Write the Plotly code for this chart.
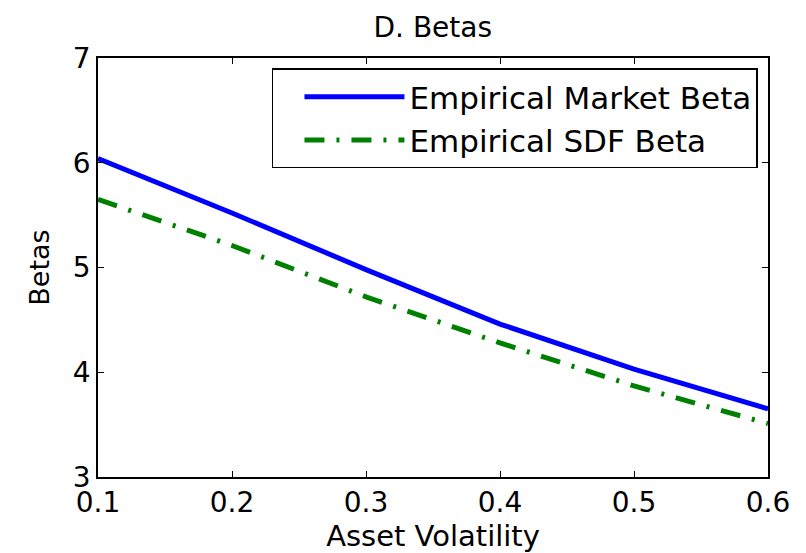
import plotly.graph_objects as go

# Asset volatility grid and the two beta series
volatility = [0.1, 0.2, 0.3, 0.4, 0.5, 0.6]
market_beta = [6.04, 5.52, 4.98, 4.46, 4.03, 3.65]
sdf_beta = [5.65, 5.21, 4.72, 4.28, 3.87, 3.51]

x_ticks = [0.1, 0.2, 0.3, 0.4, 0.5, 0.6]
x_tick_text = ["0.1", "0.2", "0.3", "0.4", "0.5", "0.6"]
y_ticks = [3, 4, 5, 6, 7]
y_tick_text = ["3", "4", "5", "6", "7"]

FONT = "DejaVu Sans, Verdana, sans-serif"

fig = go.Figure()
fig.add_trace(go.Scatter(
    x=volatility, y=market_beta, mode="lines",
    name="Empirical Market Beta",
    line=dict(color="#0000FF", width=5),
))
fig.add_trace(go.Scatter(
    x=volatility, y=sdf_beta, mode="lines",
    name="Empirical SDF Beta",
    line=dict(color="#008000", width=5, dash="20px,12px,3px,12px"),
))

axis_common = dict(
    showgrid=False, zeroline=False, automargin=False,
    showline=True, linecolor="black", linewidth=1.5,
    mirror="allticks", ticks="inside", ticklen=6, tickwidth=1.2,
    tickcolor="black",
    tickfont=dict(family=FONT, size=28, color="black"),
)

fig.update_layout(
    width=806, height=553,
    margin=dict(l=98, r=38, t=58, b=76),
    paper_bgcolor="white", plot_bgcolor="white",
    title=dict(text="D. Betas", x=0.537, xanchor="center", y=0.95, yanchor="middle",
               font=dict(family=FONT, size=28, color="black")),
    xaxis=dict(range=[0.1, 0.6], tickvals=x_ticks, ticktext=x_tick_text,
               title=dict(text="Asset Volatility",
                          font=dict(family=FONT, size=29, color="black")),
               **axis_common),
    yaxis=dict(range=[3, 7], tickvals=y_ticks, ticktext=y_tick_text,
               title=dict(text="Betas",
                          font=dict(family=FONT, size=27, color="black")),
               **axis_common),
    legend=dict(x=0.985, xanchor="right", y=0.975, yanchor="top",
                bordercolor="black", borderwidth=1.5, bgcolor="white",
                font=dict(family=FONT, size=31, color="black"),
                itemwidth=100, tracegroupgap=0, indentation=26),
    showlegend=True,
)

fig.write_html("out.html")
